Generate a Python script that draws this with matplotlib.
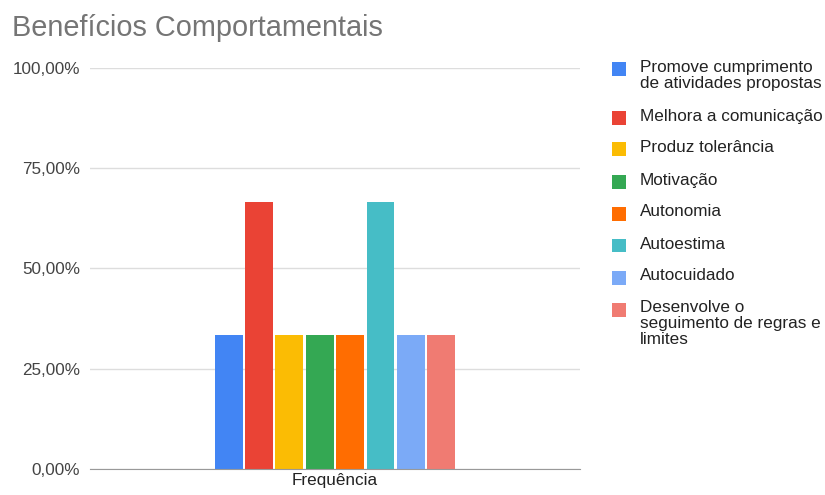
import numpy as np
import matplotlib.pyplot as plt
from matplotlib.patches import Rectangle
from matplotlib.ticker import FuncFormatter

plt.rcParams['font.family'] = ['Liberation Sans', 'DejaVu Sans']

# share of respondents per behavioural benefit
series = ['Promove cumprimento\nde atividades propostas', 'Melhora a comunicação',
          'Produz tolerância', 'Motivação', 'Autonomia', 'Autoestima', 'Autocuidado',
          'Desenvolve o\nseguimento de regras e\nlimites']
values = [33.33, 66.67, 33.33, 33.33, 33.33, 66.67, 33.33, 33.33]
colors = ['#4285F4', '#EA4335', '#FBBC04', '#34A853', '#FF6D01', '#46BDC6', '#7BAAF7', '#F07B72']
category = 'Frequência'
yticks = [0, 25, 50, 75, 100]

W, H = 825, 495
fig = plt.figure(figsize=(W / 100, H / 100), dpi=100)
ax = fig.add_axes([0.109, 0.0525, 0.594, 0.8105])

step = 0.124
width = 0.114
n = len(values)
for i, (v, c) in enumerate(zip(values, colors)):
    ax.bar((i - (n - 1) / 2) * step, v, width=width, color=c, zorder=3)

ax.set_xlim(-1, 1)
ax.set_ylim(0, 100)
ax.set_xticks([0])
ax.set_xticklabels([category], fontsize=12.3, color='#222222')
ax.set_yticks(yticks)
ax.yaxis.set_major_formatter(FuncFormatter(lambda v, p: f'{v:.2f}%'.replace('.', ',')))
ax.tick_params(axis='y', labelsize=12.3, labelcolor='#444444', length=0, pad=7)
ax.tick_params(axis='x', length=0, pad=3)
ax.grid(axis='y', color='#dddddd', linewidth=1, zorder=0)
for s in ['top', 'right', 'left']:
    ax.spines[s].set_visible(False)
ax.spines['bottom'].set_color('#999999')
ax.spines['bottom'].set_zorder(4)

fig.text(12 / W, 1 - 28 / H, 'Benefícios Comportamentais', fontsize=20.8, color='#757575',
         va='center', ha='left')

# legend drawn by hand: swatch aligned with the first line of each label
y = 62
for label, c in zip(series, colors):
    fig.patches.append(Rectangle((612 / W, 1 - (y + 14) / H), 14 / W, 14 / H,
                                 facecolor=c, edgecolor='none',
                                 transform=fig.transFigure, figure=fig))
    fig.text(640 / W, 1 - (y - 2) / H, label, fontsize=12.3, color='#222222',
             va='top', ha='left', linespacing=1.07)
    y += 32 + 16.5 * label.count('\n')

fig.savefig('out.png', dpi=100)
